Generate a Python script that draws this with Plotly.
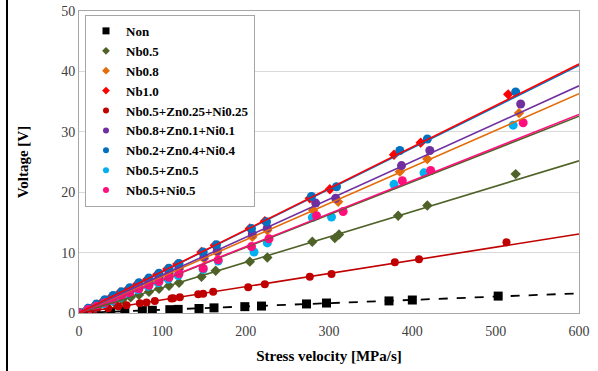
import numpy as np
import plotly.graph_objects as go

# ---------------- data ----------------
series_names = ["Non", "Nb0.5", "Nb0.8", "Nb1.0", "Nb0.5+Zn0.25+Ni0.25",
                "Nb0.8+Zn0.1+Ni0.1", "Nb0.2+Zn0.4+Ni0.4", "Nb0.5+Zn0.5", "Nb0.5+Ni0.5"]

non_x = [0, 11, 20, 38, 55, 76, 88, 109, 119, 144, 162, 199, 219, 273, 297, 372, 400, 503]
non_y = [0, 0.05, 0.1, 0.2, 0.3, 0.4, 0.45, 0.55, 0.6, 0.75, 0.85, 1.05, 1.15, 1.5, 1.65, 2.0, 2.15, 2.8]

nb05_x = [0, 12, 22, 32, 42, 52, 62, 72, 84, 96, 108, 120, 147, 164, 205, 226, 280, 307, 312, 383, 418, 524]
nb05_y = [0, 0.5, 0.9, 1.3, 1.8, 2.2, 2.6, 3.0, 3.5, 4.0, 4.5, 5.0, 6.0, 7.0, 8.5, 9.2, 11.8, 12.4, 13.0, 16.1, 17.8, 23.0]

nb08_x = [0, 10, 20, 30, 40, 50, 60, 72, 84, 96, 108, 120, 150, 166, 208, 226, 281, 311, 385, 418, 528]
nb08_y = [0, 0.6, 1.2, 1.8, 2.4, 3.0, 3.6, 4.3, 5.1, 5.8, 6.5, 7.3, 9.0, 10.0, 12.6, 13.7, 17.0, 18.4, 23.4, 25.5, 33.1]

nb10_x = [0, 10, 19, 29, 39, 49, 59, 70, 82, 94, 106, 118, 147, 163, 205, 223, 277, 301, 378, 410, 515]
nb10_y = [0, 0.7, 1.3, 2.0, 2.7, 3.4, 4.0, 4.8, 5.6, 6.4, 7.3, 8.1, 10.1, 11.2, 14.0, 15.2, 19.0, 20.5, 26.2, 28.2, 36.2]

nzn1_x = [0, 11, 21, 35, 47, 57, 73, 81, 91, 111, 113, 121, 143, 149, 161, 203, 223, 277, 303, 379, 408, 513]
nzn1_y = [0, 0.2, 0.45, 0.8, 1.1, 1.3, 1.6, 1.75, 2.0, 2.4, 2.45, 2.6, 3.1, 3.2, 3.5, 4.25, 4.75, 6.0, 6.45, 8.4, 8.9, 11.7]

nzn2_x = [0, 11, 21, 31, 41, 51, 61, 72, 84, 96, 108, 120, 150, 166, 208, 226, 284, 308, 387, 421, 530]
nzn2_y = [0, 0.7, 1.3, 1.9, 2.6, 3.2, 3.8, 4.5, 5.3, 6.0, 6.8, 7.5, 9.3, 10.3, 13.1, 14.1, 18.2, 19.0, 24.4, 26.9, 34.6]

nzn3_x = [0, 11, 21, 31, 41, 51, 61, 72, 84, 96, 108, 120, 149, 165, 207, 225, 279, 309, 385, 418, 524]
nzn3_y = [0, 0.8, 1.5, 2.2, 2.9, 3.5, 4.2, 5.0, 5.8, 6.6, 7.4, 8.2, 10.1, 11.3, 14.0, 15.1, 19.3, 20.9, 26.9, 28.8, 36.6]

nbzn_x = [0, 10, 20, 30, 40, 50, 60, 71, 83, 95, 107, 119, 149, 167, 210, 226, 280, 303, 378, 414, 521]
nbzn_y = [0, 0.5, 1.0, 1.5, 2.0, 2.6, 3.1, 3.8, 4.4, 5.0, 5.6, 6.2, 7.2, 8.6, 10.1, 11.6, 15.8, 15.9, 21.3, 23.2, 31.1]

nbni_x = [0, 11, 21, 31, 41, 51, 61, 72, 84, 96, 108, 120, 149, 167, 207, 228, 285, 317, 388, 422, 533]
nbni_y = [0, 0.6, 1.1, 1.7, 2.2, 2.8, 3.3, 4.0, 4.6, 5.2, 5.9, 6.5, 7.4, 8.8, 11.0, 12.3, 16.1, 16.8, 21.9, 23.6, 31.5]

# linear trendline slopes (V per MPa/s)
trend_slopes = [0.00543, 0.0420, 0.0605, 0.0687, 0.0218, 0.0627, 0.0683, 0.0543, 0.0548]
trend_range = [0, 600]

x_ticks = [0, 100, 200, 300, 400, 500, 600]
y_ticks = [0, 10, 20, 30, 40, 50]

# ---------------- styling ----------------
colors = ["#000000", "#4F6228", "#E46C0A", "#FF0000", "#C00000",
          "#7030A0", "#0070C0", "#00B0F0", "#FF0F7B"]
trend_colors = ["#000000", "#4F6228", "#E46C0A", "#FF0000", "#C00000",
                "#7030A0", "#0070C0", "#4F6228", "#FF0F7B"]
symbols = ["square", "diamond", "diamond", "diamond", "circle",
           "circle", "circle", "circle", "circle"]
sizes = [9, 8, 8, 8, 8, 9, 9, 9, 9]
legend_sizes = [7, 6, 6, 6, 6, 6, 6, 6, 6]

xs = [non_x, nb05_x, nb08_x, nb10_x, nzn1_x, nzn2_x, nzn3_x, nbzn_x, nbni_x]
ys = [non_y, nb05_y, nb08_y, nb10_y, nzn1_y, nzn2_y, nzn3_y, nbzn_y, nbni_y]

serif = "Liberation Serif"

fig = go.Figure()

for i, name in enumerate(series_names):
    fig.add_trace(go.Scatter(
        x=xs[i], y=ys[i], mode="markers", name=name, legendgroup=name,
        showlegend=False,
        marker=dict(symbol=symbols[i], size=sizes[i], color=colors[i]),
    ))

# trend lines (drawn on top), order so pink sits over its dark neighbour
order = [0, 1, 4, 7, 8, 2, 5, 6, 3]
for i in order:
    tx = np.array(trend_range, dtype=float)
    ty = trend_slopes[i] * tx
    fig.add_trace(go.Scatter(
        x=tx, y=ty, mode="lines", showlegend=False, hoverinfo="skip",
        line=dict(color=trend_colors[i], width=1.6 if i != 0 else 1.8,
                  dash="dash" if i == 0 else "solid"),
    ))

# legend entries (smaller markers, as in the reference legend)
for i, name in enumerate(series_names):
    fig.add_trace(go.Scatter(
        x=[None], y=[None], mode="markers", name=name, legendgroup=name,
        marker=dict(symbol=symbols[i], size=legend_sizes[i], color=colors[i]),
    ))

fig.update_layout(
    template="none",
    width=598, height=371,
    margin=dict(l=79, r=19, t=11, b=58, autoexpand=False),
    paper_bgcolor="white", plot_bgcolor="white",
    font=dict(family=serif, size=13, color="#404040"),
    showlegend=True,
    legend=dict(
        x=0.012, y=0.987, xanchor="left", yanchor="top",
        bgcolor="white", bordercolor="#A6A6A6", borderwidth=1,
        font=dict(family=serif, size=13, color="#000000", weight="bold"),
        itemsizing="trace", tracegroupgap=0, itemwidth=30,
    ),
    xaxis=dict(
        range=[0, 600], tickvals=x_ticks, showgrid=False, zeroline=False,
        showline=True, linecolor="#A6A6A6", linewidth=1, mirror=True,
        automargin=False, ticklabelstandoff=5,
        ticks="", tickfont=dict(family=serif, size=14, color="#404040"),
        title=dict(text="Stress velocity [MPa/s]", standoff=12,
                   font=dict(family=serif, size=15, color="#000000", weight="bold")),
    ),
    yaxis=dict(
        range=[0, 50], tickvals=y_ticks, showgrid=True, gridcolor="#D9D9D9",
        zeroline=False, showline=True, linecolor="#A6A6A6", linewidth=1, mirror=True,
        automargin=False,
        ticks="", tickfont=dict(family=serif, size=14, color="#404040"),
        title=dict(text="Voltage [V]", standoff=28,
                   font=dict(family=serif, size=15, color="#000000", weight="bold")),
    ),
    shapes=[dict(type="line", xref="paper", yref="paper",
                 x0=(7 - 79) / 500, x1=(7 - 79) / 500, y0=-58 / 302, y1=1 + 11 / 302,
                 line=dict(color="black", width=2))],
)

fig.write_html("out.html", config={"displayModeBar": False},
               post_script="document.body.style.margin='0';document.body.style.overflow='hidden';")
